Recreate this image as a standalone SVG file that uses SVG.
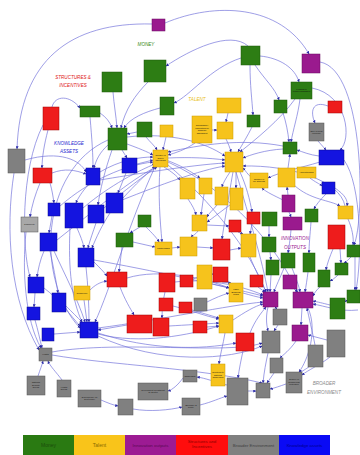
<svg xmlns="http://www.w3.org/2000/svg" width="360" height="455" viewBox="0 0 360 455">
<style>
.g{fill:#2d7d14;stroke:#1d5a0a;stroke-width:0.5}
.y{fill:#f6c31c;stroke:#c99a00;stroke-width:0.5}
.p{fill:#9a1a8e;stroke:#6a0a60;stroke-width:0.5}
.r{fill:#ee1c1c;stroke:#a00000;stroke-width:0.5}
.e{fill:#808080;stroke:#555555;stroke-width:0.5}
.b{fill:#1414e0;stroke:#0a0a90;stroke-width:0.5}
#connectors path{fill:none;stroke:#7070da;stroke-width:0.75;stroke-opacity:0.9;marker-end:url(#a)}
.t{font-family:"Liberation Sans",Arial,sans-serif;font-size:2.2px;text-anchor:middle;fill:#111}
.s{font-family:"Liberation Sans",Arial,sans-serif;font-size:4.6px;font-style:italic;text-anchor:middle}
.l{font-family:"Liberation Sans",Arial,sans-serif;font-size:5px;text-anchor:middle}
</style>
<defs>
<marker id="a" viewBox="0 0 6 6" refX="5.5" refY="3" markerWidth="3" markerHeight="3" markerUnits="userSpaceOnUse" orient="auto">
<path d="M0,0 L6,3 L0,6 z" fill="#2a2aa8"/>
</marker>
</defs>
<rect width="360" height="455" fill="#ffffff"/>

<g id="connectors">
<path d="M152,24 C70,22 20,60 17,149"/>
<path d="M165,23 C215,2 280,4 309,54"/>
<path d="M248,46 C230,30 190,50 166,66"/>
<path d="M241,58 C210,68 190,96 174,103"/>
<path d="M113,92 C114,105 116,115 117,128"/>
<path d="M148,82 C135,95 125,110 121,128"/>
<path d="M160,108 C145,112 130,118 124,128"/>
<path d="M100,113 C106,117 110,122 112,128"/>
<path d="M52,107 C55,95 70,95 80,108"/>
<path d="M137,132 L127,134"/>
<path d="M166,137 L163,150"/>
<path d="M127,144 C138,148 148,152 153,155"/>
<path d="M146,137 C150,142 155,146 157,150"/>
<path d="M260,56 C280,58 295,68 299,82"/>
<path d="M255,65 C265,80 275,88 279,100"/>
<path d="M250,65 C250,85 252,100 253,115"/>
<path d="M300,99 C298,115 293,130 291,142"/>
<path d="M283,113 C286,122 288,132 289,142"/>
<path d="M252,127 C248,135 242,145 238,152"/>
<path d="M295,99 C280,120 255,140 240,152"/>
<path d="M328,106 C312,100 310,112 315,123"/>
<path d="M318,141 L326,150"/>
<path d="M283,149 C265,150 250,155 243,158"/>
<path d="M319,156 C310,155 303,152 297,150"/>
<path d="M288,168 L290,154"/>
<path d="M310,178 C315,182 320,184 322,186"/>
<path d="M288,195 L287,187"/>
<path d="M283,200 C275,196 266,192 262,188"/>
<path d="M294,185 C310,200 330,200 340,206"/>
<path d="M252,178 C248,175 245,170 243,168"/>
<path d="M320,62 C365,70 365,220 354,245"/>
<path d="M312,88 C348,95 352,140 340,150"/>
<path d="M344,160 C362,185 362,260 356,290"/>
<path d="M228,113 L226,122"/>
<path d="M212,130 L217,130"/>
<path d="M226,139 C228,143 230,148 231,152"/>
<path d="M195,143 C185,150 175,153 168,155"/>
<path d="M168,158 C190,157 210,158 225,160"/>
<path d="M137,164 L153,160"/>
<path d="M100,172 C120,160 140,157 153,157"/>
<path d="M123,198 C135,185 148,172 155,167"/>
<path d="M104,208 C125,190 145,175 157,167"/>
<path d="M83,208 C110,185 140,170 155,164"/>
<path d="M60,206 C90,180 125,165 153,162"/>
<path d="M57,240 C95,210 130,180 156,167"/>
<path d="M108,145 C100,152 96,160 94,168"/>
<path d="M122,150 L127,158"/>
<path d="M40,183 C35,195 32,205 30,217"/>
<path d="M14,173 C5,230 10,300 39,350"/>
<path d="M26,232 C22,270 25,320 41,348"/>
<path d="M52,216 L49,233"/>
<path d="M44,251 C40,260 38,270 37,277"/>
<path d="M35,293 L34,307"/>
<path d="M50,251 C53,265 56,280 58,293"/>
<path d="M54,251 C65,275 78,300 85,322"/>
<path d="M86,267 C88,285 89,305 89,322"/>
<path d="M84,300 L87,322"/>
<path d="M66,306 C72,312 78,318 82,322"/>
<path d="M54,334 L80,332"/>
<path d="M35,320 C38,330 40,340 42,348"/>
<path d="M77,228 C80,235 83,242 84,248"/>
<path d="M96,223 C93,232 90,240 88,248"/>
<path d="M110,213 C102,225 96,238 92,248"/>
<path d="M38,376 C40,370 42,365 43,361"/>
<path d="M62,380 C56,372 50,366 48,361"/>
<path d="M52,355 C110,365 200,368 262,383"/>
<path d="M52,352 C120,340 230,355 262,343"/>
<path d="M101,400 C108,403 113,405 118,406"/>
<path d="M133,409 C150,412 170,410 182,407"/>
<path d="M200,405 C212,402 220,398 227,396"/>
<path d="M227,385 C215,382 205,378 197,377"/>
<path d="M183,378 C178,385 172,390 168,391"/>
<path d="M248,391 L256,391"/>
<path d="M286,384 C280,386 275,388 270,389"/>
<path d="M274,373 L267,383"/>
<path d="M268,353 C266,362 264,372 263,383"/>
<path d="M310,366 C305,370 300,372 302,372"/>
<path d="M330,357 C320,365 308,370 302,375"/>
<path d="M296,341 C290,350 283,355 280,358"/>
<path d="M278,325 L274,331"/>
<path d="M268,307 C266,315 266,323 268,331"/>
<path d="M302,308 L301,325"/>
<path d="M308,308 C318,330 308,360 299,372"/>
<path d="M225,333 C223,345 220,355 219,364"/>
<path d="M243,351 C241,360 239,370 238,378"/>
<path d="M243,293 C250,295 257,297 263,298"/>
<path d="M258,287 L265,292"/>
<path d="M271,275 L270,292"/>
<path d="M284,268 C280,278 276,286 274,292"/>
<path d="M292,268 C296,278 299,286 300,292"/>
<path d="M294,289 L298,292"/>
<path d="M308,272 C307,280 306,286 305,292"/>
<path d="M320,287 C316,290 314,294 313,296"/>
<path d="M338,275 C335,278 332,280 330,281"/>
<path d="M351,257 C348,260 346,262 344,263"/>
<path d="M333,249 C330,256 327,264 326,270"/>
<path d="M330,305 C322,303 318,302 313,301"/>
<path d="M348,299 L345,302"/>
<path d="M270,252 L271,260"/>
<path d="M269,226 L269,237"/>
<path d="M291,230 C290,240 289,248 288,253"/>
<path d="M311,222 C310,235 309,245 309,253"/>
<path d="M289,212 L291,217"/>
<path d="M250,257 C255,270 262,282 266,292"/>
<path d="M252,224 L250,234"/>
<path d="M94,260 C150,270 220,285 263,296"/>
<path d="M98,328 C160,320 230,305 263,302"/>
<path d="M175,282 C205,278 240,285 263,295"/>
<path d="M127,278 C160,268 205,278 229,288"/>
<path d="M98,334 C140,345 190,335 219,326"/>
<path d="M169,326 C185,325 205,324 219,323"/>
<path d="M127,325 L98,330"/>
<path d="M173,306 C190,310 205,316 219,319"/>
<path d="M192,310 L219,318"/>
<path d="M207,327 L219,326"/>
<path d="M207,302 C215,298 222,295 229,293"/>
<path d="M222,282 L231,283"/>
<path d="M212,284 L229,288"/>
<path d="M193,279 C200,276 206,274 213,274"/>
<path d="M230,250 L241,248"/>
<path d="M197,247 L213,248"/>
<path d="M172,248 L180,247"/>
<path d="M198,231 C195,235 192,236 191,237"/>
<path d="M188,199 C192,205 195,210 196,215"/>
<path d="M204,194 L201,215"/>
<path d="M217,205 C213,210 209,213 207,217"/>
<path d="M230,205 C220,212 213,218 207,222"/>
<path d="M230,172 C226,178 223,183 222,187"/>
<path d="M236,172 L236,188"/>
<path d="M233,172 C228,200 224,225 222,239"/>
<path d="M240,172 C246,185 250,200 252,212"/>
<path d="M164,167 C172,172 177,176 180,180"/>
<path d="M160,167 C158,195 160,220 162,242"/>
<path d="M146,227 C152,233 157,238 159,242"/>
<path d="M122,247 L119,272"/>
<path d="M133,242 L155,247"/>
<path d="M166,160 C180,165 192,172 200,178"/>
<path d="M112,150 C105,170 100,190 98,205"/>
<path d="M326,194 C320,200 316,205 314,209"/>
<path d="M348,219 C352,228 354,238 353,245"/>
<path d="M98,333 C150,350 200,350 236,343"/>
<path d="M155,167 C130,220 110,290 95,322"/>
<path d="M108,140 C40,170 35,280 80,328"/>
<path d="M236,172 C250,220 262,260 268,292"/>
<path d="M168,165 C210,200 250,250 266,292"/>
<path d="M43,125 C20,170 22,250 30,277"/>
<path d="M90,117 C92,140 93,155 93,168"/>
<path d="M48,130 C44,145 42,158 42,168"/>
<path d="M50,183 C52,190 53,196 54,203"/>
<path d="M88,185 C82,192 78,198 76,203"/>
<path d="M126,173 L118,193"/>
<path d="M127,137 C170,132 205,142 225,156"/>
<path d="M345,206 C340,180 290,165 243,166"/>
<path d="M320,162 C300,168 280,172 268,178"/>
<path d="M100,180 C130,175 190,165 225,163"/>
<path d="M122,200 C160,185 200,170 225,166"/>
<path d="M25,160 C60,150 80,160 86,172"/>
<path d="M52,173 C65,168 75,170 86,174"/>
<path d="M70,228 C68,270 72,300 82,322"/>
<path d="M44,288 C60,300 70,315 80,326"/>
<path d="M358,310 C340,312 325,306 313,304"/>
<path d="M275,307 L277,309"/>
<path d="M233,320 C245,312 255,306 263,304"/>
<path d="M250,333 C255,320 262,312 266,307"/>
<path d="M315,345 C312,330 309,318 307,308"/>
<path d="M327,340 L308,335"/>
<path d="M98,336 C160,365 230,360 262,346"/>
<path d="M168,162 C230,190 280,250 297,292"/>
<path d="M283,146 C240,138 200,145 168,152"/>
<path d="M355,257 L355,290"/>
<path d="M340,249 L341,263"/>
<path d="M335,188 C345,195 348,200 347,206"/>
<path d="M238,232 L243,234"/>
<path d="M207,225 L229,226"/>
<path d="M140,227 L130,233"/>
<path d="M94,262 C100,268 104,272 107,276"/>
<path d="M120,287 C125,300 130,308 134,315"/>
<path d="M165,292 C163,300 162,310 162,318"/>
<path d="M90,290 C95,285 100,282 107,281"/>
</g>

<g id="n-p1"><rect class="p" x="152" y="19" width="13" height="12"/></g>
<g id="n-g1"><rect class="g" x="144" y="60" width="22" height="22"/></g>
<g id="n-g2"><rect class="g" x="102" y="72" width="20" height="20"/></g>
<g id="n-g3"><rect class="g" x="80" y="106" width="20" height="11"/></g>
<g id="n-g4"><rect class="g" x="160" y="97" width="14" height="18"/></g>
<g id="n-g5"><rect class="g" x="108" y="128" width="19" height="22"/></g>
<g id="n-g6"><rect class="g" x="137" y="122" width="15" height="15"/></g>
<g id="n-y1"><rect class="y" x="160" y="125" width="13" height="12"/></g>
<g id="n-r1"><rect class="r" x="43" y="107" width="16" height="23"/></g>
<g id="n-e1"><rect class="e" x="8" y="149" width="17" height="24"/></g>
<g id="n-g7"><rect class="g" x="241" y="46" width="19" height="19"/></g>
<g id="n-p2"><rect class="p" x="302" y="54" width="18" height="19"/></g>
<g id="n-g8"><rect class="g" x="291" y="82" width="21" height="17"/><text class="t" x="301.5" y="89.5">Funding to<tspan x="301.5" dy="2.6">commercialisation</tspan></text></g>
<g id="n-g9"><rect class="g" x="274" y="100" width="13" height="13"/></g>
<g id="n-g10"><rect class="g" x="247" y="115" width="13" height="12"/></g>
<g id="n-y2"><rect class="y" x="217" y="98" width="24" height="15"/></g>
<g id="n-y3"><rect class="y" x="192" y="116" width="20" height="27"/><text class="t" x="202" y="125.9" style="font-size:2px">Scholarships /<tspan x="202" dy="2.6">Publications for</tspan><tspan x="202" dy="2.6">academic</tspan><tspan x="202" dy="2.6">assessment</tspan></text></g>
<g id="n-y4"><rect class="y" x="217" y="122" width="16" height="17"/></g>
<g id="n-r2"><rect class="r" x="328" y="101" width="14" height="12"/></g>
<g id="n-e2"><rect class="e" x="309" y="123" width="15" height="18"/><text class="t" x="316.5" y="131.5">Size of local<tspan x="316.5" dy="2.6">economy</tspan></text></g>
<g id="n-g11"><rect class="g" x="283" y="142" width="14" height="12"/></g>
<g id="n-b14"><rect class="b" x="319" y="150" width="25" height="15"/></g>
<g id="n-y5"><rect class="y" x="153" y="150" width="15" height="17"/><text class="t" x="160.5" y="156.2">Number of<tspan x="160.5" dy="2.6">skilled</tspan><tspan x="160.5" dy="2.6">individuals</tspan></text></g>
<g id="n-b1"><rect class="b" x="122" y="158" width="15" height="15"/></g>
<g id="n-b2"><rect class="b" x="86" y="168" width="14" height="17"/></g>
<g id="n-r3"><rect class="r" x="33" y="168" width="19" height="15"/></g>
<g id="n-y6"><rect class="y" x="225" y="152" width="18" height="20"/></g>
<g id="n-y7"><rect class="y" x="250" y="173" width="18" height="15"/><text class="t" x="259" y="179.5">Number of<tspan x="259" dy="2.6">UK students</tspan></text></g>
<g id="n-y8"><rect class="y" x="278" y="168" width="17" height="19"/></g>
<g id="n-y9"><rect class="y" x="297" y="167" width="19" height="11"/><text class="t" x="306.5" y="173.3" style="font-size:2px">Apprenticeships</text></g>
<g id="n-b15"><rect class="b" x="322" y="182" width="13" height="12"/></g>
<g id="n-y10"><rect class="y" x="180" y="178" width="15" height="21"/></g>
<g id="n-y11"><rect class="y" x="199" y="178" width="13" height="16"/></g>
<g id="n-y12"><rect class="y" x="215" y="187" width="13" height="18"/></g>
<g id="n-y13"><rect class="y" x="230" y="188" width="13" height="22"/></g>
<g id="n-p3"><rect class="p" x="282" y="195" width="13" height="17"/></g>
<g id="n-b3"><rect class="b" x="106" y="193" width="17" height="20"/></g>
<g id="n-b4"><rect class="b" x="65" y="203" width="18" height="25"/></g>
<g id="n-b5"><rect class="b" x="88" y="205" width="16" height="18"/></g>
<g id="n-b6"><rect class="b" x="48" y="203" width="12" height="13"/></g>
<g id="n-e3"><rect class="e" x="21" y="217" width="17" height="15" style="fill:#a8a8a8"/><text class="t" x="29.5" y="225.3">Complexity</text></g>
<g id="n-g12"><rect class="g" x="138" y="215" width="13" height="12"/></g>
<g id="n-y14"><rect class="y" x="192" y="215" width="15" height="16"/></g>
<g id="n-r4"><rect class="r" x="247" y="212" width="13" height="12"/></g>
<g id="n-g14"><rect class="g" x="262" y="212" width="15" height="14"/></g>
<g id="n-p4"><rect class="p" x="283" y="217" width="19" height="13"/></g>
<g id="n-g15"><rect class="g" x="305" y="209" width="13" height="13"/></g>
<g id="n-y22"><rect class="y" x="338" y="206" width="15" height="13"/></g>
<g id="n-r5"><rect class="r" x="229" y="220" width="12" height="12"/></g>
<g id="n-r6"><rect class="r" x="328" y="225" width="17" height="24"/></g>
<g id="n-g13"><rect class="g" x="116" y="233" width="17" height="14"/></g>
<g id="n-b7"><rect class="b" x="40" y="233" width="17" height="18"/></g>
<g id="n-y15"><rect class="y" x="180" y="237" width="17" height="19"/></g>
<g id="n-y16"><rect class="y" x="155" y="242" width="17" height="13"/><text class="t" x="163.5" y="249.3">Partnerships</text></g>
<g id="n-y17"><rect class="y" x="241" y="234" width="15" height="23"/></g>
<g id="n-g16"><rect class="g" x="262" y="237" width="14" height="15"/></g>
<g id="n-r7"><rect class="r" x="213" y="239" width="17" height="21"/></g>
<g id="n-g17"><rect class="g" x="347" y="245" width="13" height="12"/></g>
<g id="n-b8"><rect class="b" x="78" y="248" width="16" height="19"/></g>
<g id="n-g18"><rect class="g" x="266" y="260" width="13" height="15"/></g>
<g id="n-g19"><rect class="g" x="281" y="253" width="14" height="15"/></g>
<g id="n-g20"><rect class="g" x="303" y="253" width="12" height="19"/></g>
<g id="n-g21"><rect class="g" x="335" y="263" width="13" height="12"/></g>
<g id="n-g22"><rect class="g" x="318" y="270" width="12" height="17"/></g>
<g id="n-y18"><rect class="y" x="197" y="265" width="15" height="24"/></g>
<g id="n-r8"><rect class="r" x="107" y="272" width="20" height="15"/></g>
<g id="n-r9"><rect class="r" x="159" y="273" width="16" height="19"/></g>
<g id="n-r10"><rect class="r" x="180" y="275" width="13" height="12"/></g>
<g id="n-r11"><rect class="r" x="213" y="267" width="15" height="15"/></g>
<g id="n-r12"><rect class="r" x="250" y="275" width="13" height="12"/></g>
<g id="n-p5"><rect class="p" x="283" y="275" width="14" height="14"/></g>
<g id="n-b9"><rect class="b" x="28" y="277" width="16" height="16"/></g>
<g id="n-y23"><rect class="y" x="74" y="286" width="16" height="14"/><text class="t" x="82" y="293.8">Confidence</text></g>
<g id="n-y19"><rect class="y" x="229" y="283" width="14" height="19"/><text class="t" x="236" y="290.2">Viable<tspan x="236" dy="2.6">Business</tspan><tspan x="236" dy="2.6">Plans</tspan></text></g>
<g id="n-g23"><rect class="g" x="347" y="290" width="13" height="13"/></g>
<g id="n-p6"><rect class="p" x="263" y="292" width="15" height="15"/></g>
<g id="n-p7"><rect class="p" x="293" y="292" width="20" height="16"/></g>
<g id="n-b10"><rect class="b" x="52" y="293" width="14" height="19"/></g>
<g id="n-r13"><rect class="r" x="159" y="298" width="14" height="13"/></g>
<g id="n-r14"><rect class="r" x="179" y="302" width="13" height="11"/></g>
<g id="n-e4"><rect class="e" x="194" y="298" width="13" height="13"/></g>
<g id="n-g24"><rect class="g" x="330" y="298" width="15" height="21"/></g>
<g id="n-b11"><rect class="b" x="27" y="307" width="13" height="13"/></g>
<g id="n-e5"><rect class="e" x="273" y="309" width="14" height="16"/></g>
<g id="n-y20"><rect class="y" x="219" y="315" width="14" height="18"/></g>
<g id="n-r15"><rect class="r" x="127" y="315" width="25" height="18"/></g>
<g id="n-r16"><rect class="r" x="153" y="318" width="16" height="18"/></g>
<g id="n-r17"><rect class="r" x="193" y="321" width="14" height="12"/></g>
<g id="n-b12"><rect class="b" x="80" y="322" width="18" height="16"/></g>
<g id="n-b13"><rect class="b" x="42" y="328" width="12" height="13"/></g>
<g id="n-p8"><rect class="p" x="292" y="325" width="16" height="16"/></g>
<g id="n-e6"><rect class="e" x="262" y="331" width="18" height="22"/></g>
<g id="n-e7"><rect class="e" x="327" y="330" width="18" height="27"/></g>
<g id="n-r18"><rect class="r" x="236" y="333" width="18" height="18"/></g>
<g id="n-e8"><rect class="e" x="308" y="345" width="15" height="22"/></g>
<g id="n-e10"><rect class="e" x="39" y="348" width="13" height="13"/><text class="t" x="45.5" y="355.3">Health</text></g>
<g id="n-e9"><rect class="e" x="270" y="358" width="13" height="15"/></g>
<g id="n-y21"><rect class="y" x="211" y="364" width="14" height="22"/><text class="t" x="218" y="373.2">Solutions to<tspan x="218" dy="2.6">National</tspan><tspan x="218" dy="2.6">Challenges</tspan></text></g>
<g id="n-e16"><rect class="e" x="183" y="370" width="14" height="12"/><text class="t" x="190" y="376.8">Challenges</text></g>
<g id="n-e19"><rect class="e" x="286" y="372" width="16" height="21"/><text class="t" x="294" y="380.2">Degree of<tspan x="294" dy="2.6">Commercial</tspan><tspan x="294" dy="2.6">protection</tspan></text></g>
<g id="n-e11"><rect class="e" x="27" y="376" width="18" height="19"/><text class="t" x="36" y="383.2">National<tspan x="36" dy="2.6">Security</tspan><tspan x="36" dy="2.6">Needs</tspan></text></g>
<g id="n-e17"><rect class="e" x="227" y="378" width="21" height="27"/></g>
<g id="n-e12"><rect class="e" x="57" y="380" width="14" height="17"/><text class="t" x="64" y="387.5">Health<tspan x="64" dy="2.6">Needs</tspan></text></g>
<g id="n-e15"><rect class="e" x="138" y="383" width="30" height="17"/><text class="t" x="153" y="390.5">Government Investment<tspan x="153" dy="2.6">by Sector</tspan></text></g>
<g id="n-e18"><rect class="e" x="256" y="383" width="14" height="15"/></g>
<g id="n-e13"><rect class="e" x="78" y="390" width="23" height="17"/><text class="t" x="89.5" y="397.5">Dependency on<tspan x="89.5" dy="2.6">Govt Policy</tspan></text></g>
<g id="n-e20"><rect class="e" x="182" y="398" width="18" height="17"/><text class="t" x="191" y="405.5">Economy &amp;<tspan x="191" dy="2.6">Policy</tspan></text></g>
<g id="n-e14"><rect class="e" x="118" y="399" width="15" height="16"/></g>

<g id="labels">
<text class="s" x="146" y="46" fill="#3a8a1a">MONEY</text>
<text class="s" x="73" y="79" fill="#e02020">STRUCTURES &amp;<tspan x="73" dy="7.5">INCENTIVES</tspan></text>
<text class="s" x="69" y="145" fill="#2a2ad0">KNOWLEDGE<tspan x="69" dy="7.5">ASSETS</tspan></text>
<text class="s" x="197" y="101" fill="#e8c020">TALENT</text>
<text class="s" x="295" y="240" fill="#9a1a90">INNOVATION<tspan x="295" dy="8.5">OUTPUTS</tspan></text>
<text class="s" x="324" y="385" fill="#8a8a8a">BROADER<tspan x="324" dy="8.5">ENVIRONMENT</tspan></text>
</g>

<g id="legend">
<rect x="23" y="435" width="51" height="20" fill="#2a7a12"/>
<rect x="74" y="435" width="51" height="20" fill="#f9c41a"/>
<rect x="125" y="435" width="51" height="20" fill="#9c1b93"/>
<rect x="176" y="435" width="52" height="20" fill="#ff0d0d"/>
<rect x="228" y="435" width="51" height="20" fill="#808080"/>
<rect x="279" y="435" width="51" height="20" fill="#0a0af5"/>
<text class="l" x="48.5" y="447" fill="#1b4d0b">Money</text>
<text class="l" x="99.5" y="447" fill="#8a6a00">Talent</text>
<text class="l" x="150.5" y="447" fill="#5a0a55" style="font-size:4.4px">Innovation outputs</text>
<text class="l" x="202" y="443" fill="#8b0000" style="font-size:4.4px">Structures and<tspan x="202" dy="5">Incentives</tspan></text>
<text class="l" x="253.5" y="447" fill="#404040" style="font-size:4.4px">Broader Environment</text>
<text class="l" x="304.5" y="447" fill="#00008b" style="font-size:4.4px">Knowledge assets</text>
</g>
</svg>
